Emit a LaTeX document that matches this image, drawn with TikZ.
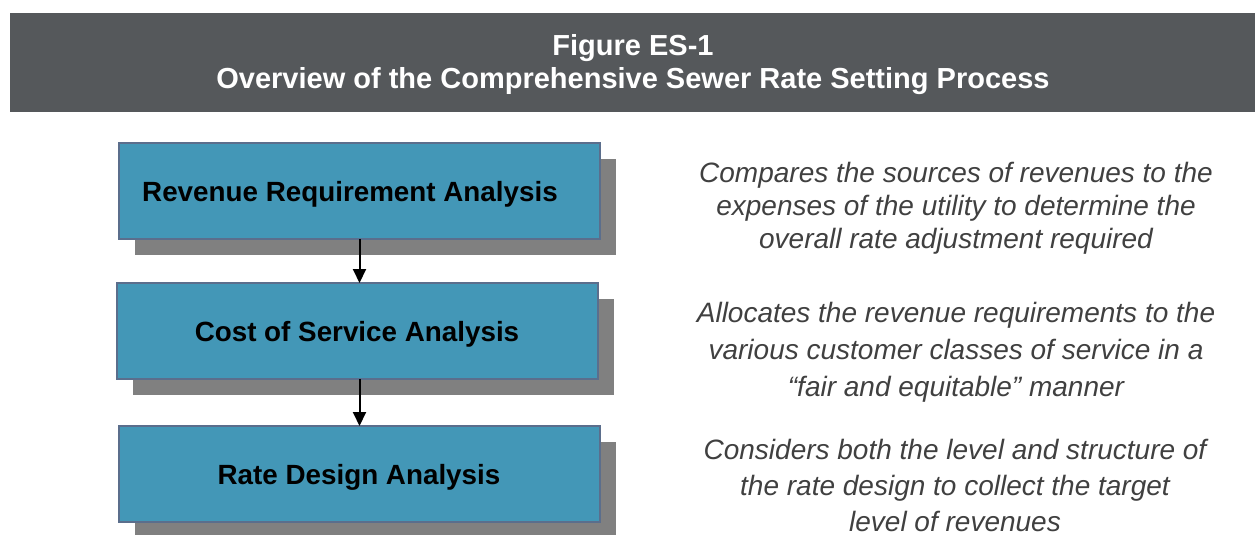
\documentclass[tikz,border=0pt]{standalone}
\usepackage{fontspec}
\setmainfont{Liberation Sans}
\usetikzlibrary{arrows.meta}
\definecolor{bandgrey}{HTML}{55585B}
\definecolor{boxblue}{HTML}{4397B7}
\definecolor{boxedge}{HTML}{5B6E8C}
\definecolor{shadowgrey}{HTML}{808080}
\definecolor{notegrey}{HTML}{404040}
\tikzset{
  stagebox/.style={draw=boxedge, line width=2pt, fill=boxblue},
  stageshadow/.style={fill=shadowgrey, draw=none},
  stagetext/.style={font=\fontsize{27.8}{33}\selectfont\bfseries, text=black, inner sep=0pt},
  notetext/.style={font=\fontsize{28}{33}\selectfont\itshape, text=notegrey, align=center, inner sep=0pt},
  flow/.style={line width=2pt, -{Triangle[width=13pt,length=14pt]}},
}
\begin{document}
\begin{tikzpicture}[x=1pt,y=-1pt]
\useasboundingbox (0,0) rectangle (1255,535);
% title band
\fill[bandgrey] (10,13) rectangle (1255,112);
\node[font=\fontsize{29}{33}\selectfont\bfseries, text=white, align=center, inner sep=0pt] (title) at (633,65)
  {Figure ES-1\\Overview of the Comprehensive Sewer Rate Setting Process};
% drop shadows
\fill[stageshadow] (135,159) rectangle (616,255);
\fill[stageshadow] (133,299) rectangle (614,395);
\fill[stageshadow] (135,442) rectangle (616,538);
% stage boxes
\path[stagebox] (119,143) rectangle (600,239);
\coordinate (rrtop) at (359.5,143);
\coordinate (rrbot) at (359.5,239);
\path[stagebox] (117,283) rectangle (598,379);
\coordinate (cstop) at (359.5,283);
\coordinate (csbot) at (359.5,379);
\path[stagebox] (119,426) rectangle (600,522);
\coordinate (rdtop) at (359.5,426);
\node[stagetext] (rr) at (350,194) {Revenue Requirement Analysis};
\node[stagetext] (cs) at (357,334) {Cost of Service Analysis};
\node[stagetext] (rd) at (359,477) {Rate Design Analysis};
% connectors
\draw[flow] (rrbot) -- (cstop);
\draw[flow] (csbot) -- (rdtop);
% descriptions
\node[notetext] (n1) at (956,208) {Compares the sources of revenues to the\\expenses of the utility to determine the\\overall rate adjustment required};
\node[notetext, font=\fontsize{28}{37}\selectfont\itshape] (n2) at (956,352) {Allocates the revenue requirements to the\\various customer classes of service in a\\“fair and equitable\symbol{34} manner};
\node[notetext, font=\fontsize{28}{36}\selectfont\itshape] (n3) at (955,485) {Considers both the level and structure of\\the rate design to collect the target\\level of revenues};
\end{tikzpicture}
\end{document}
